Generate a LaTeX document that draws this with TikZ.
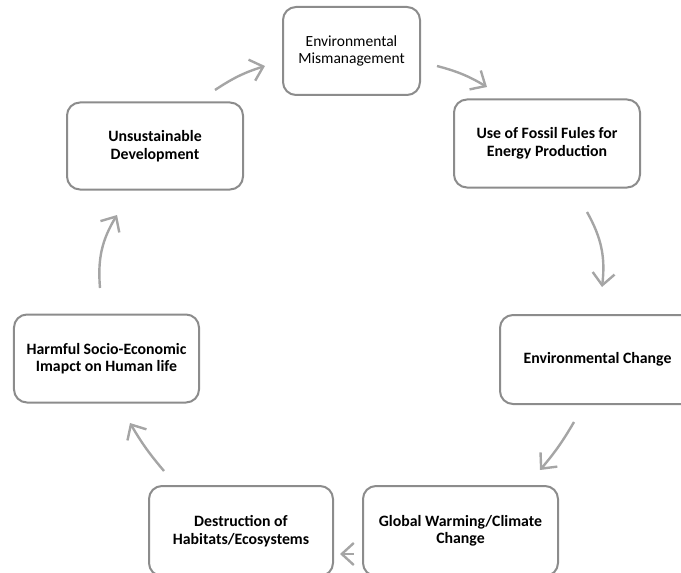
\documentclass[tikz,border=0pt]{standalone}
\usepackage{fontspec}
\setmainfont{Carlito}
\usetikzlibrary{arrows.meta}
\definecolor{boxgray}{RGB}{140,140,140}
\definecolor{arrgray}{RGB}{165,165,165}
\tikzset{
  stagebox/.style={draw=boxgray, line width=2bp, rounded corners=13bp, fill=white,
    align=center, inner sep=0pt, font=\fontsize{15.8bp}{17.5bp}\selectfont\bfseries},
  cyclearrow/.style={draw=arrgray, line width=2.4bp,
    -{Straight Barb[length=12bp,width=22bp,line width=2.4bp]}}
}
\begin{document}
\begin{tikzpicture}[x=1bp,y=-1bp]
\useasboundingbox (0,0) rectangle (681,573);
\clip (0,0) rectangle (681,573);
\node[stagebox, minimum width=137bp, minimum height=88bp, font=\fontsize{15.5bp}{17.5bp}\selectfont] (mis) at (351.5,51) {Environmental\\Mismanagement};
\node[stagebox, minimum width=176bp, minimum height=87bp] (uns) at (155,146) {Unsustainable\\Development};
\node[stagebox, minimum width=186bp, minimum height=88bp] (fos) at (547,143.5) {Use of Fossil Fules for\\Energy Production};
\node[stagebox, minimum width=185bp, minimum height=88bp] (harm) at (106.5,358.5) {Harmful Socio-Economic\\Imapct on Human life};
\node[stagebox, minimum width=195bp, minimum height=89bp] (env) at (597.5,359.5) {Environmental Change};
\node[stagebox, minimum width=184bp, minimum height=90bp] (des) at (241,531) {Destruction of\\Habitats/Ecosystems};
\node[stagebox, minimum width=195bp, minimum height=90bp] (glo) at (460.5,531) {Global Warming/Climate\\Change};
\coordinate (a1s) at (215,90);  \coordinate (a1e) at (265,66);
\coordinate (a2s) at (437,66);  \coordinate (a2e) at (487,87);
\coordinate (a3s) at (587,212); \coordinate (a3e) at (602,287);
\coordinate (a4s) at (574,422); \coordinate (a4e) at (540,470);
\coordinate (a5s) at (354,554); \coordinate (a5e) at (340,554);
\coordinate (a6s) at (164,471); \coordinate (a6e) at (130,423);
\coordinate (a7s) at (100,288); \coordinate (a7e) at (117,215);
\draw[cyclearrow] (a1s) to[bend left=8] (a1e);
\draw[cyclearrow] (a2s) to[bend left=8] (a2e);
\draw[cyclearrow] (a3s) to[bend left=18] (a3e);
\draw[cyclearrow] (a4s) to[bend left=5] (a4e);
\draw[cyclearrow] (a5s) -- (a5e);
\draw[cyclearrow] (a6s) to[bend left=5] (a6e);
\draw[cyclearrow] (a7s) to[bend left=18] (a7e);
\end{tikzpicture}
\end{document}
